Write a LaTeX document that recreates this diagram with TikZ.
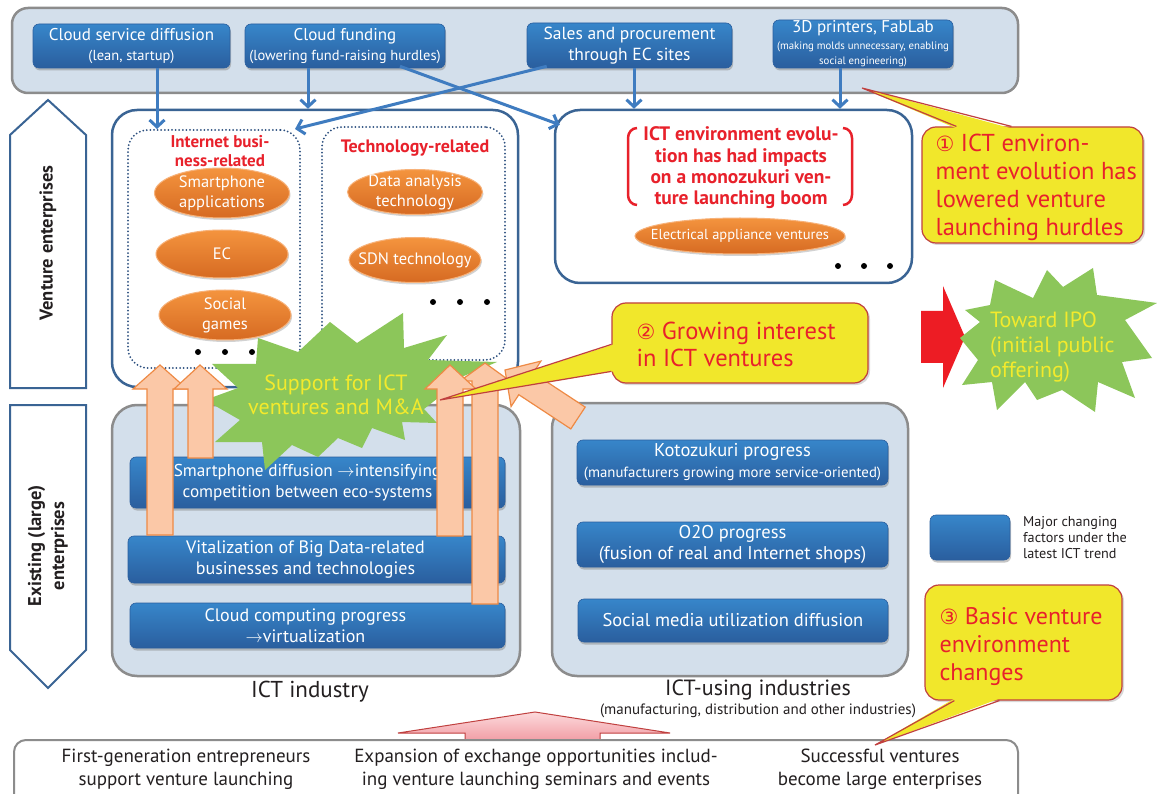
\documentclass[tikz,border=0pt]{standalone}
\usepackage{fontspec}
\setmainfont{PT Sans}
\newfontfamily\symfont{DejaVu Sans}
\usetikzlibrary{arrows.meta,shapes.geometric,shadows,calc}

\newcommand\fsz[2]{\fontsize{#1}{#2}\selectfont}

\definecolor{bandfill}{HTML}{D3DFEB}
\definecolor{bandline}{HTML}{8C8C8C}
\definecolor{navy}{HTML}{3A6494}
\definecolor{dotnavy}{HTML}{2B4E7E}
\definecolor{btop}{HTML}{3786CA}
\definecolor{bbot}{HTML}{2A5E9E}
\definecolor{otop}{HTML}{F4943E}
\definecolor{obot}{HTML}{D66A22}
\definecolor{oline}{HTML}{F7B27A}
\definecolor{arrowblue}{HTML}{3F7CC0}
\definecolor{salmon}{HTML}{FBC8A7}
\definecolor{salmonline}{HTML}{EE8A45}
\definecolor{burst}{HTML}{8CC65A}
\definecolor{ylw}{HTML}{F1E72B}
\definecolor{ylwtext}{HTML}{F3EA2C}
\definecolor{redtext}{HTML}{E8212B}
\definecolor{calloutline}{HTML}{C0403F}
\definecolor{pinktop}{HTML}{FCDADC}
\definecolor{pinkbot}{HTML}{F19AA2}
\definecolor{ipored}{HTML}{ED1C24}
\definecolor{ink}{HTML}{231F20}

\tikzset{
  panel/.style={draw=bandline, line width=2.5, fill=bandfill, rounded corners=25, inner sep=0},
  bluebox/.style={rounded corners=6, top color=btop, bottom color=bbot, draw=bbot, line width=0.6,
    inner sep=0, drop shadow={shadow xshift=1pt, shadow yshift=-2.5pt, opacity=0.45}},
  boxtext/.style={text=white, align=center, font=\fsz{18.5}{21}, inner sep=0},
  toptext/.style={boxtext, font=\fsz{17}{20}},
  ictext/.style={boxtext, font=\fsz{18}{21}},
  oval/.style={ellipse, top color=otop, bottom color=obot, draw=oline, line width=1, inner sep=0,
    drop shadow={shadow xshift=1pt, shadow yshift=-2pt, opacity=0.35}},
  ovaltext/.style={text=white, align=center, font=\fsz{16.5}{20}, inner sep=0},
  dotbox/.style={draw=dotnavy, line width=2, dash pattern=on 0pt off 3.6pt, line cap=round,
    rounded corners=20, inner sep=0},
  venturebox/.style={draw=navy, line width=2.5, fill=white, rounded corners=25, inner sep=0},
  sidelabel/.style={draw=navy, line width=2, fill=white},
  redhead/.style={text=redtext, font=\bfseries\fsz{17}{19}, align=center, inner sep=0},
  barrow/.style={draw=arrowblue, line width=3, -{Straight Barb[length=7pt, width=15pt, line width=3pt]}},
  blockarrow/.style={fill=salmon, draw=salmonline, line width=1.2, line join=miter},
  burstshape/.style={fill=burst},
  bursttext/.style={text=ylwtext, font=\fsz{22}{24}, inner sep=0},
  callout/.style={fill=ylw, draw=calloutline, line width=1.2, rounded corners=14, inner sep=0,
    drop shadow={shadow xshift=2pt, shadow yshift=-2pt, opacity=0.3}},
  callouttext/.style={text=redtext, align=left, anchor=west, inner sep=0, font=\fsz{24.5}{28}},
  plain/.style={text=ink, align=center, inner sep=0},
}

\begin{document}
\begin{tikzpicture}[x=1pt,y=-1pt]
\useasboundingbox (0,0) rectangle (1157,794);
\fill[white] (0,0) rectangle (1157,794);

% ---------- top band of driving factors ----------
\node[panel, rounded corners=16, minimum width=1006, minimum height=85] (band) at (515,50.5) {};
\node[bluebox, minimum width=197, minimum height=44] (b1) at (131.5,46) {};
\node[toptext] at (b1) {Cloud service diffusion\\{\fsz{14.5}{17}(lean, startup)}};
\node[bluebox, minimum width=200, minimum height=44] (b2) at (345,46) {};
\node[toptext] at (b2) {Cloud funding\\{\fsz{14.5}{17}(lowering fund-raising hurdles)}};
\node[bluebox, minimum width=205, minimum height=45] (b3) at (629.5,45.5) {};
\node[toptext, font=\fsz{17.5}{21}] at (b3) {Sales and procurement\\through EC sites};
\node[bluebox, minimum width=180, minimum height=48] (b4) at (863,44) {};
\node[toptext] at (b4) {3D printers, FabLab\\[-3pt]{\fsz{10.8}{12}(making molds unnecessary, enabling}\\[-5pt]{\fsz{10.8}{12}social engineering)}};

% ---------- side labels ----------
\draw[sidelabel] (10,135) -- (48,100) -- (86,135) -- (86,388) -- (10,388) -- cycle;
\node[rotate=90, text=ink, font=\bfseries\fsz{18.5}{22}] (lv) at (48,243) {Venture enterprises};
\draw[sidelabel] (10,405) -- (86,405) -- (86,650) -- (48,688) -- (10,650) -- cycle;
\node[rotate=90, text=ink, align=center, font=\bfseries\fsz{18.5}{23}] (le) at (48,546) {Existing (large)\\enterprises};

% ---------- venture enterprises ----------
\node[venturebox, minimum width=406, minimum height=277] (vbox) at (315,248.5) {};
\node[dotbox, minimum width=172, minimum height=238] (inet) at (214,249) {};
\node[dotbox, minimum width=183, minimum height=233] (tech) at (413.5,243.5) {};
\node[redhead] (inett) at (220,151) {Internet busi-\\ness-related};
\node[redhead, font=\bfseries\fsz{18}{19}] (techt) at (415,148) {Technology-related};

\node[oval, minimum width=135, minimum height=50] (sa) at (222,193) {};
\node[ovaltext] at (sa) {Smartphone\\applications};
\node[oval, minimum width=132, minimum height=48] (ec) at (222,254) {};
\node[ovaltext] at (ec) {EC};
\node[oval, minimum width=132, minimum height=50] (sg) at (225,315) {};
\node[ovaltext] at (sg) {Social\\games};
\node[oval, minimum width=135, minimum height=45] (da) at (415,192) {};
\node[ovaltext] at (da) {Data analysis\\technology};
\node[oval, minimum width=132, minimum height=45] (sdn) at (415,260) {};
\node[ovaltext] at (sdn) {SDN technology};
\foreach \x in {198,225,252} \fill[black] (\x,352) circle (3);
\foreach \x in {433,460,487} \fill[black] (\x,302) circle (3);

\node[venturebox, minimum width=357, minimum height=173] (mbox) at (733.5,196.5) {};
\node[redhead, font=\bfseries\fsz{19.5}{21.3}] (impact) at (741,168)
  {ICT environment evolu-\\tion has had impacts\\on a monozukuri ven-\\ture launching boom};
\draw[redtext, line width=2.5] (637,128) to[out=180,in=90] (628,138) -- (628,195) to[out=-90,in=180] (637,205);
\draw[redtext, line width=2.5] (843,128) to[out=0,in=90] (852,138) -- (852,195) to[out=-90,in=0] (843,205);
\node[oval, minimum width=210, minimum height=36] (ea) at (740,236) {};
\node[ovaltext, font=\fsz{14.5}{17}] at (ea) {Electrical appliance ventures};
\foreach \x in {838,864,890} \fill[black] (\x,266) circle (3);

% ---------- existing enterprises ----------
\node[panel, minimum width=408, minimum height=271] (ictind) at (316,540.5) {};
\node[bluebox, minimum width=375, minimum height=51] (sd) at (317.5,482.5) {};
\node[bluebox, minimum width=377, minimum height=47] (bd) at (316.5,559.5) {};
\node[ictext] at ($(bd)+(-11,0)$) {Vitalization of Big Data-related\\businesses and technologies};
\node[bluebox, minimum width=375, minimum height=45] (cc) at (317.5,625.5) {};
\node[ictext] at ($(cc)+(-12,0)$) {Cloud computing progress\\$\rightarrow$virtualization};
\node[plain, font=\fsz{23}{25}] (ictl) at (310,692) {ICT industry};

\node[panel, minimum width=356, minimum height=273] (ictuse) at (730,539.5) {};
\node[bluebox, minimum width=311, minimum height=45] (ko) at (732.5,462.5) {};
\node[boxtext] at (ko) {Kotozukuri progress\\{\fsz{14.8}{16}(manufacturers growing more service-oriented)}};
\node[bluebox, minimum width=311, minimum height=45] (oo) at (732.5,544.5) {};
\node[boxtext] at (oo) {O2O progress\\(fusion of real and Internet shops)};
\node[bluebox, minimum width=310, minimum height=43] (sm) at (733,620.5) {};
\node[boxtext] at (sm) {Social media utilization diffusion};
\node[plain, font=\fsz{22}{24}] (usel) at (758,690) {ICT-using industries};
\node[plain, font=\fsz{15}{17}] (usesub) at (758,711) {(manufacturing, distribution and other industries)};

% ---------- support burst ----------
\fill[burstshape] (258,338) -- (298,352) -- (330,322) -- (357,343) -- (403,313) -- (404,348)
  -- (447,335) -- (428,360) -- (497,362) -- (452,381) -- (438,398) -- (424,409) -- (437,423)
  -- (402,422) -- (405,440) -- (372,428) -- (362,448) -- (338,438) -- (318,457) -- (292,445)
  -- (265,470) -- (262,442) -- (215,442) -- (240,420) -- (205,400) -- (238,388) -- (212,364)
  -- (256,364) -- cycle;
\node[bursttext, align=center] (supt) at (336,395) {Support for ICT\\ventures and M\&A};
\node[ictext, font=\fsz{17.2}{21}] at ($(sd)+(-10,0)$) {Smartphone diffusion $\rightarrow$intensifying\\competition between eco-systems};

% ---------- rising block arrows ----------
\filldraw[blockarrow] (147,535) -- (147,389) -- (133,389) -- (160,365) -- (187,389) -- (173,389) -- (173,535) -- cycle;
\filldraw[blockarrow] (188,458) -- (188,389) -- (174,389) -- (200,365) -- (227,389) -- (213,389) -- (213,458) -- cycle;
\filldraw[blockarrow] (472,604) -- (472,381) -- (460,381) -- (485,363) -- (510,381) -- (498,381) -- (498,604) -- cycle;
\filldraw[blockarrow] (437,536) -- (437,389) -- (425,389) -- (450,365) -- (476,389) -- (463,389) -- (463,536) -- cycle;
\filldraw[blockarrow] (505,370) -- (540.9,361.1) -- (533.2,372.9) -- (585.2,407.1) -- (570.8,428.9)
  -- (518.8,394.7) -- (511.1,406.5) -- cycle;

% ---------- blue connectors ----------
\coordinate (b1o) at ($(b1.south)+(25.5,0)$);
\draw[barrow] (b1o) -- (b1o |- inet.north);
\coordinate (b2o) at ($(b2.south)+(-37,0)$);
\draw[barrow] (b2o) -- (b2o |- vbox.north);
\draw[barrow] ($(b2.south)+(55,-2)$) -- ($(mbox.north west)+(6,16)$);
\draw[barrow] ($(b3.south west)+(20,-2)$) -- ($(inet.north east)+(-6,0)$);
\coordinate (b3o) at ($(b3.south)+(4.5,0)$);
\draw[barrow] (b3o) -- (b3o |- mbox.north);
\coordinate (b4o) at ($(b4.south)+(-23,0)$);
\draw[barrow] (b4o) -- (b4o |- mbox.north);

% ---------- towards IPO ----------
\fill[ipored] (921,311) -- (943,311) -- (943,286) -- (965,337) -- (943,388) -- (943,363) -- (921,363) -- cycle;
\fill[burstshape] (995,280) -- (1033,298) -- (1047,270) -- (1063,287) -- (1093,268) -- (1097,295)
  -- (1157,303) -- (1125,320) -- (1152,358) -- (1122,362) -- (1135,398) -- (1098,382) -- (1095,412)
  -- (1062,390) -- (1037,400) -- (1025,382) -- (997,410) -- (992,382) -- (962,385) -- (978,360)
  -- (960,338) -- (980,322) -- (965,310) -- (990,305) -- cycle;
\node[bursttext, align=left, anchor=west, font=\fsz{22}{25}] (ipot) at (990,347) {Toward IPO\\(initial public\\offering)};

% ---------- callouts ----------
\node[callout, minimum width=221, minimum height=116] (c1) at (1032.5,185) {};
\node[callouttext] (c1t) at ($(c1.west)+(14,2)$)
  {{\symfont\fsz{21}{28}①} ICT environ-\\ment evolution has\\lowered venture\\launching hurdles};
\coordinate (t1) at (862,88);
\fill[ylw] ($(c1.north west)+(35,2)$) -- (t1) -- ($(c1.north west)+(90,2)$) -- cycle;
\draw[calloutline, line width=1.2] ($(c1.north west)+(35,0)$) -- (t1) -- ($(c1.north west)+(90,0)$);

\node[callout, minimum width=256, minimum height=80] (c2) at (740,343) {};
\node[callouttext, font=\fsz{24.5}{27}] (c2t) at ($(c2.west)+(25,1)$)
  {{\symfont\fsz{21}{27}②} Growing interest\\in ICT ventures};
\coordinate (t2) at (440,400);
\fill[ylw] ($(c2.north west)+(2,42)$) -- (t2) -- ($(c2.north west)+(2,69)$) -- cycle;
\draw[calloutline, line width=1.2] ($(c2.north west)+(0,42)$) -- (t2) -- ($(c2.north west)+(0,69)$);

% ---------- legend ----------
\node[bluebox, minimum width=80, minimum height=45] (leg) at (970,537.5) {};
\node[plain, align=left, anchor=west, font=\fsz{14.2}{16}] (legt) at (1023,538) {Major changing\\factors under the\\latest ICT trend};

% ---------- bottom row ----------
\shade[top color=pinktop, bottom color=pinkbot, draw=calloutline, line width=1]
  (465,742) -- (465,733) -- (398,733) -- (535,712) -- (670,733) -- (600,733) -- (600,742) -- cycle;
\node[draw=bandline, line width=2, fill=white, rounded corners=12, minimum width=1004, minimum height=66, inner sep=0] (bottom) at (516,773) {};
\node[plain, font=\fsz{19}{23}] (bt1) at (186,769) {First-generation entrepreneurs\\support venture launching};
\node[plain, font=\fsz{19}{23}] (bt2) at (536,769) {Expansion of exchange opportunities includ-\\ing venture launching seminars and events};
\node[plain, font=\fsz{19}{23}] (bt3) at (880,769) {Successful ventures\\become large enterprises};

\node[callout, minimum width=197, minimum height=115] (c3) at (1023.5,642.5) {};
\node[callouttext, font=\fsz{24}{28}] (c3t) at ($(c3.west)+(15,4)$)
  {{\symfont\fsz{21}{28}③} Basic venture\\environment\\changes};
\coordinate (t3) at (875,745);
\fill[ylw] ($(c3.south west)+(30,-2)$) -- (t3) -- ($(c3.south west)+(75,-2)$) -- cycle;
\draw[calloutline, line width=1.2] ($(c3.south west)+(30,0)$) -- (t3) -- ($(c3.south west)+(75,0)$);
\end{tikzpicture}
\end{document}
